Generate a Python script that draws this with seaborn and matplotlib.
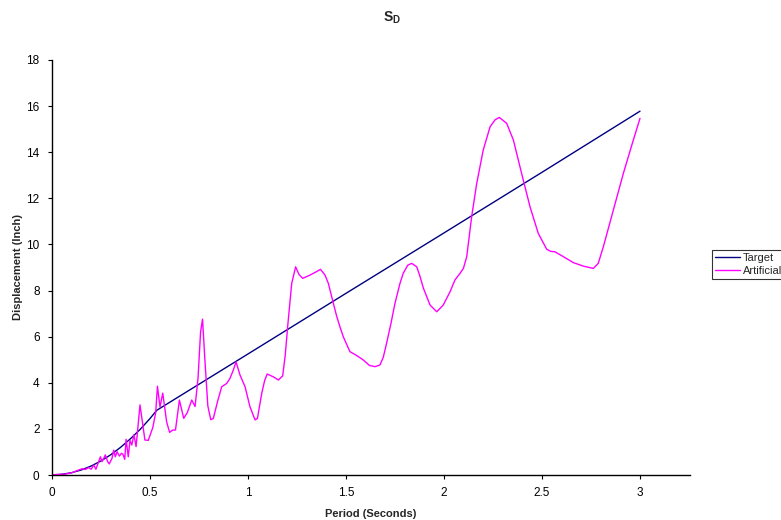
import matplotlib
matplotlib.use("Agg")
import matplotlib.pyplot as plt
import seaborn as sns
import pandas as pd

# Target design spectrum (displacement, inch) vs period (s)
target_period = [0.0, 0.05, 0.1, 0.15, 0.2, 0.25, 0.3, 0.35, 0.4, 0.45, 0.5, 0.535,
                 1.0, 1.5, 2.0, 2.5, 3.0]
target_disp = [0.0, 0.03, 0.1, 0.22, 0.39, 0.61, 0.88, 1.2, 1.57, 1.98, 2.45, 2.81,
               5.25, 7.88, 10.5, 13.13, 15.78]

# Artificial record spectrum
art_period = [0.0, 0.017, 0.068, 0.102, 0.128, 0.153, 0.17, 0.187, 0.2, 0.213, 0.224,
              0.238, 0.247, 0.255, 0.264, 0.272, 0.284, 0.292, 0.306, 0.315, 0.323,
              0.332, 0.344, 0.354, 0.362, 0.371, 0.378, 0.389, 0.398, 0.407, 0.418,
              0.429, 0.44, 0.449, 0.458, 0.474, 0.491, 0.514, 0.529, 0.538, 0.551,
              0.565, 0.574, 0.585, 0.6, 0.616, 0.63, 0.65, 0.672, 0.69, 0.713, 0.73,
              0.745, 0.758, 0.768, 0.78, 0.795, 0.81, 0.823, 0.845, 0.866, 0.891,
              0.908, 0.925, 0.939, 0.959, 0.985, 1.01, 1.036, 1.048, 1.07, 1.085,
              1.098, 1.129, 1.155, 1.177, 1.19, 1.203, 1.223, 1.243, 1.26, 1.279,
              1.316, 1.345, 1.37, 1.393, 1.41, 1.427, 1.452, 1.469, 1.486, 1.52,
              1.555, 1.588, 1.62, 1.648, 1.673, 1.69, 1.707, 1.73, 1.75, 1.775,
              1.792, 1.815, 1.835, 1.861, 1.878, 1.895, 1.929, 1.963, 1.996, 2.031,
              2.056, 2.082, 2.099, 2.116, 2.128, 2.141, 2.167, 2.2, 2.235, 2.26,
              2.282, 2.32, 2.354, 2.396, 2.439, 2.481, 2.524, 2.545, 2.566, 2.609,
              2.66, 2.711, 2.762, 2.787, 2.813, 2.864, 2.915, 2.966, 3.0]
art_disp = [0.0, 0.02, 0.04, 0.1, 0.19, 0.27, 0.24, 0.32, 0.25, 0.43, 0.25,
            0.58, 0.79, 0.58, 0.72, 0.87, 0.58, 0.48, 0.72, 1.08, 0.79,
            1.01, 0.82, 0.94, 0.9, 0.68, 1.55, 0.79, 1.5, 1.3, 1.75,
            1.23, 2.2, 3.04, 2.5, 1.52, 1.5, 2.05, 2.7, 3.85, 2.95,
            3.55, 3.0, 2.3, 1.85, 1.95, 1.95, 3.25, 2.46, 2.7, 3.25, 2.97,
            4.2, 6.2, 6.76, 5.0, 3.0, 2.4, 2.45, 3.2, 3.83, 3.97,
            4.19, 4.55, 4.91, 4.34, 3.83, 2.96, 2.39, 2.45, 3.54, 4.1,
            4.38, 4.26, 4.12, 4.3, 5.2, 6.5, 8.31, 9.03, 8.7, 8.53,
            8.67, 8.8, 8.92, 8.67, 8.31, 7.73, 6.9, 6.43, 6.0, 5.35,
            5.18, 4.99, 4.75, 4.7, 4.77, 5.1, 5.71, 6.6, 7.45, 8.3,
            8.75, 9.1, 9.18, 9.03, 8.6, 8.1, 7.37, 7.08, 7.37, 7.95,
            8.46, 8.75, 8.96, 9.47, 10.3, 11.2, 12.65, 14.09, 15.1, 15.4,
            15.51, 15.25, 14.53, 13.08, 11.63, 10.48, 9.79, 9.7, 9.68, 9.47,
            9.21, 9.06, 8.96, 9.18, 9.9, 11.49, 13.08, 14.53, 15.47]

x_ticks = [0, 0.5, 1, 1.5, 2, 2.5, 3]
x_tick_labels = ["0", "0.5", "1", "1.5", "2", "2.5", "3"]
y_ticks = [0, 2, 4, 6, 8, 10, 12, 14, 16, 18]

sns.set_theme(style="white")
plt.rcParams["font.family"] = ["Liberation Sans", "DejaVu Sans"]
plt.rcParams["mathtext.fontset"] = "custom"
plt.rcParams["mathtext.rm"] = "Liberation Sans"
plt.rcParams["mathtext.bf"] = "Liberation Sans:bold"

df_t = pd.DataFrame({"Period": target_period, "Disp": target_disp})
df_a = pd.DataFrame({"Period": art_period, "Disp": art_disp})

fig = plt.figure(figsize=(7.81, 5.2), dpi=100)
ax = fig.add_axes([52 / 781, 45 / 520, (690 - 52) / 781, (475 - 60) / 520])

sns.lineplot(data=df_t, x="Period", y="Disp", ax=ax, color="#000080", lw=1.0,
             sort=False, estimator=None, label="Target")
sns.lineplot(data=df_a, x="Period", y="Disp", ax=ax, color="#FF00FF", lw=1.0,
             sort=False, estimator=None, label="Artificial")

ax.set_xlim(0, 638 / 196)
ax.set_ylim(0, 18)
ax.set_xticks(x_ticks)
ax.set_xticklabels(x_tick_labels)
ax.set_yticks(y_ticks)
ax.tick_params(axis="both", labelsize=8.5, colors="black", direction="out",
               length=3, width=0.8, bottom=True, left=True, pad=6)
for s in ["top", "right"]:
    ax.spines[s].set_visible(False)
for s in ["left", "bottom"]:
    ax.spines[s].set_color("black")
    ax.spines[s].set_linewidth(1.0)

ax.set_xlabel("Period (Seconds)", fontsize=8, fontweight="bold", labelpad=7)
ax.set_ylabel("Displacement (Inch)", fontsize=8, fontweight="bold", labelpad=2)

fig.text(392 / 781, 1 - 18 / 520, r"$\mathbf{S_D}$", ha="center", va="center",
         fontsize=10)

leg = ax.legend(loc="upper left", bbox_to_anchor=(712 / 781, 1 - 250 / 520),
                bbox_transform=fig.transFigure, fontsize=8, frameon=True,
                fancybox=False, edgecolor="black", handlelength=2.3,
                handletextpad=0.2, borderpad=0.25, labelspacing=0.3,
                borderaxespad=0)
leg.get_frame().set_linewidth(0.8)

fig.savefig("out.png", dpi=100)
